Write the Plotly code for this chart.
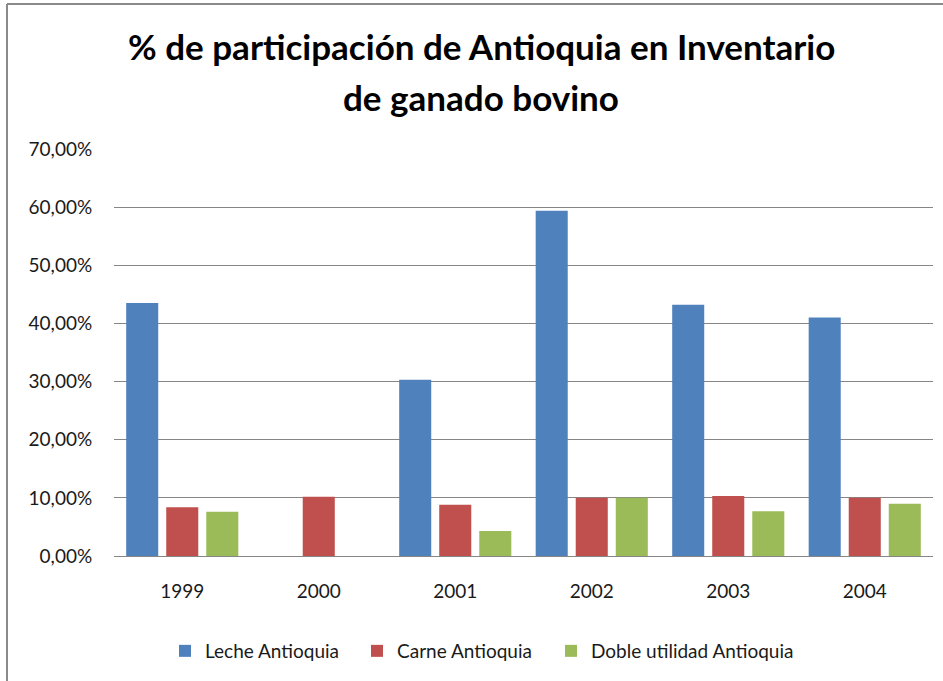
import plotly.graph_objects as go

years = ["1999", "2000", "2001", "2002", "2003", "2004"]
leche = [0.435, None, 0.303, 0.594, 0.432, 0.410]
carne = [0.084, 0.102, 0.088, 0.100, 0.103, 0.100]
doble = [0.076, None, 0.043, 0.100, 0.077, 0.090]
series_names = ["Leche Antioquia", "Carne Antioquia", "Doble utilidad Antioquia"]
colors = ["#4F81BD", "#C0504D", "#9BBB59"]
y_ticks = [0, 0.1, 0.2, 0.3, 0.4, 0.5, 0.6, 0.7]
y_tick_labels = ["0,00%", "10,00%", "20,00%", "30,00%", "40,00%", "50,00%", "60,00%", "70,00%"]
title_lines = ["% de participación de Antioquia en Inventario", "de ganado bovino"]

FONT = "Lato"
W, H = 943, 681
L, R, T, B = 114, 10, 149, 125

pw = W - L - R
ph = H - T - B
def px_x(p):
    return (p - L) / pw
def px_y(p):
    return (H - B - p) / ph

legend_ids = ["legend", "legend2", "legend3"]
legend_px = [165, 357, 551]

fig = go.Figure()
for name, vals, col, lg in zip(series_names, [leche, carne, doble], colors, legend_ids):
    fig.add_trace(go.Bar(x=years, y=vals, name=name, legend=lg,
                         marker=dict(color=col, line=dict(width=0))))

title_ann = [
    dict(text="<b>%s</b>" % t, x=px_x(481), y=px_y(yc), xref="paper", yref="paper",
         xanchor="center", yanchor="middle", showarrow=False,
         font=dict(size=35, family=FONT, color="#000000"))
    for t, yc in zip(title_lines, [46, 97])
]

legend_layout = {}
for lg, lx in zip(legend_ids, legend_px):
    legend_layout[lg] = dict(orientation="h", x=px_x(lx), xanchor="left", y=px_y(651), yanchor="middle",
                             font=dict(size=19, family=FONT, color="#1a1a1a"), itemwidth=30,
                             bgcolor="rgba(0,0,0,0)")

fig.update_layout(
    width=W, height=H, autosize=False,
    margin=dict(l=L, r=R, t=T, b=B),
    paper_bgcolor="white", plot_bgcolor="white",
    barmode="group", bargap=0.12, bargroupgap=0.2,
    font=dict(family=FONT, color="#1a1a1a"),
    showlegend=True,
    annotations=title_ann,
    shapes=[
        dict(type="line", xref="paper", yref="paper", x0=px_x(7), x1=px_x(943), y0=px_y(4), y1=px_y(4),
             line=dict(color="#8a8a8a", width=2)),
        dict(type="line", xref="paper", yref="paper", x0=px_x(7), x1=px_x(7), y0=px_y(4), y1=px_y(681),
             line=dict(color="#8a8a8a", width=2)),
    ],
    **legend_layout,
)
fig.update_yaxes(range=[0, 0.7], tickvals=y_ticks, ticktext=y_tick_labels,
                 showgrid=True, gridcolor="#868686", gridwidth=1, zeroline=False,
                 showline=False, ticks="outside", ticklen=0, ticklabelstandoff=17,
                 tickfont=dict(size=19, family=FONT, color="#1a1a1a"))
fig.update_xaxes(showline=True, linecolor="#868686", linewidth=1, showgrid=False,
                 ticks="", ticklabelstandoff=18,
                 tickfont=dict(size=19, family=FONT, color="#1a1a1a"))

fig.write_html("out.html", config={"displayModeBar": False},
               post_script="document.body.style.margin='0';document.body.style.overflow='hidden';")
